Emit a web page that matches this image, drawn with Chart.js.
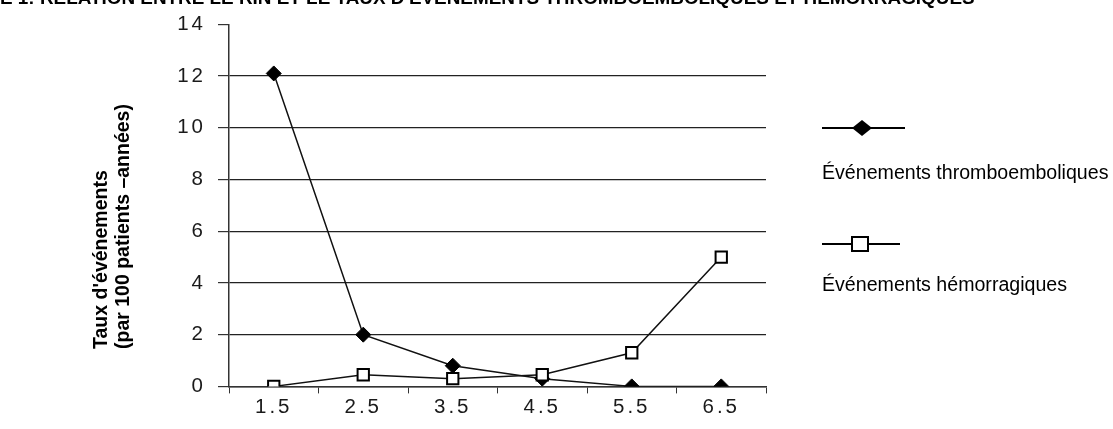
<!DOCTYPE html>
<html><head><meta charset="utf-8">
<script src="https://cdn.jsdelivr.net/npm/chart.js@4.4.1/dist/chart.umd.min.js"></script>
<style>
html,body{margin:0;padding:0;background:#fff;overflow:hidden}
#wrap{position:relative;width:1113px;height:429px}
#title{position:absolute;left:0;top:-13px;font:bold 18.9px "Liberation Sans",Arial,sans-serif;color:#000;white-space:nowrap}
canvas{position:absolute;left:0;top:0}
</style></head>
<body><div id="wrap"><canvas id="c" width="1113" height="429"></canvas>
<div id="title">E 1: RELATION ENTRE LE RIN ET LE TAUX D'ÉVÉNEMENTS THROMBOEMBOLIQUES ET HÉMORRAGIQUES</div></div>
<script>
const categories = ["1.5","2.5","3.5","4.5","5.5","6.5"];
const thrombo = [12.1, 2.0, 0.8, 0.3, 0, 0];
const hemo = [0, 0.45, 0.3, 0.45, 1.3, 5.0];
const seriesNames = ["Événements thromboemboliques","Événements hémorragiques"];
const yTitle = ["Taux d'événements","(par 100 patients –années)"];
const FONT = '"Liberation Sans", Arial, sans-serif';

const spacing = {
  id:'spacing',
  beforeDraw(chart){ chart.ctx.letterSpacing = '3px'; },
  afterDatasetsDraw(chart){ chart.ctx.letterSpacing = '0px'; }
};

const extras = {
  id:'extras',
  afterDraw(chart){
    const ctx = chart.ctx;
    ctx.save();
    ctx.letterSpacing = '0px';
    ctx.fillStyle = '#000';
    ctx.font = 'bold 19.5px ' + FONT;
    ctx.textAlign = 'left';
    ctx.textBaseline = 'middle';
    ctx.translate(0, 349);
    ctx.rotate(-Math.PI/2);
    ctx.fillText(yTitle[0], 0, 102);
    ctx.fillText(yTitle[1], 0, 124);
    ctx.restore();
    // legend
    ctx.save();
    ctx.letterSpacing = '0px';
    ctx.strokeStyle = '#000';
    ctx.lineWidth = 2;
    ctx.beginPath(); ctx.moveTo(822,128); ctx.lineTo(905,128); ctx.stroke();
    ctx.fillStyle = '#000';
    ctx.beginPath(); ctx.moveTo(862,120); ctx.lineTo(872,128); ctx.lineTo(862,136); ctx.lineTo(852,128); ctx.closePath(); ctx.fill();
    ctx.beginPath(); ctx.moveTo(822,244); ctx.lineTo(900,244); ctx.stroke();
    ctx.fillStyle = '#fff';
    ctx.fillRect(852,237,16,14);
    ctx.strokeRect(852,237,16,14);
    ctx.fillStyle = '#000';
    ctx.font = '19.6px ' + FONT;
    ctx.textAlign = 'left';
    ctx.textBaseline = 'middle';
    ctx.fillText(seriesNames[0], 822, 174);
    ctx.fillText(seriesNames[1], 822, 286);
    ctx.restore();
  }
};

new Chart(document.getElementById('c'), {
  type:'line',
  data:{
    labels: categories,
    datasets:[
      {label:seriesNames[1], data:hemo, order:0, borderColor:'#111', borderWidth:1.5,
       pointStyle:'rect', pointRadius:8, pointBackgroundColor:'#fff', pointBorderColor:'#000', pointBorderWidth:2, tension:0},
      {label:seriesNames[0], data:thrombo, order:1, borderColor:'#111', borderWidth:1.5,
       pointStyle:'rectRot', pointRadius:7.5, pointBackgroundColor:'#000', pointBorderColor:'#000', pointBorderWidth:1, tension:0}
    ]
  },
  options:{
    responsive:false, animation:false,
    layout:{padding:{left:0,right:347,top:22,bottom:7}},
    plugins:{legend:{display:false}, tooltip:{enabled:false}, title:{display:false}},
    scales:{
      x:{
        offset:true,
        grid:{drawOnChartArea:false, offset:true, tickLength:7, color:'#333', tickColor:'#333'},
        border:{color:'#333', width:1.5},
        ticks:{font:{family:FONT,size:20.5}, color:'#1a1a1a', padding:2}
      },
      y:{
        min:0, max:14,
        afterFit(s){ s.width = 229; },
        grid:{color:(c)=> (c.tick && c.tick.value===14) ? 'rgba(0,0,0,0)' : '#222', tickLength:11, tickColor:'#333', lineWidth:1.2},
        border:{color:'#333', width:1.5},
        ticks:{stepSize:2, font:{family:FONT,size:20.5}, color:'#1a1a1a', padding:12}
      }
    }
  },
  plugins:[spacing, extras]
});
</script></body></html>
